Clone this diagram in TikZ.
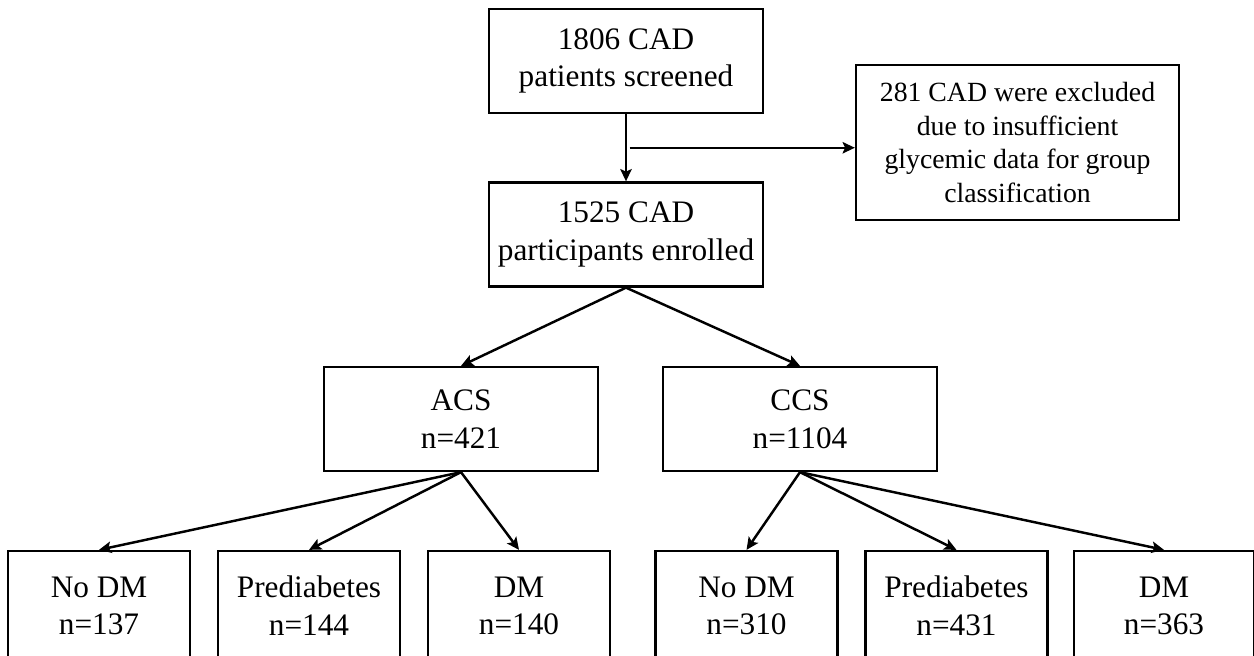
\documentclass[tikz,border=0pt]{standalone}
\usepackage{fontspec}
\setmainfont{Liberation Serif}
\usetikzlibrary{positioning,arrows.meta}

\begin{document}
\begin{tikzpicture}[node distance=3.74cm,on grid,>={Stealth[length=7pt,width=6.5pt,inset=1.5pt]},
    box/.style={draw,line width=1.3pt,align=center,inner sep=2pt,
        font=\fontsize{17.8}{21.5}\selectfont,
        minimum width=5.48cm,minimum height=2.08cm},
    group/.style={box,minimum width=3.64cm,minimum height=2.2cm},
    note/.style={box,font=\fontsize{15.8}{19}\selectfont,
        minimum width=6.46cm,minimum height=3.1cm},
    link/.style={->,line width=1.4pt}]
    \useasboundingbox (0,0) rectangle (25.08,-13.10);
    \node[box] (screen) at (12.52,-1.22) {1806 CAD\\patients screened};
    \node[box] (enrol) [below=3.47cm of screen] {1525 CAD\\participants enrolled};
    \node[note] (excl) [below right=1.63cm and 7.83cm of screen]
        {281 CAD were excluded\\due to insufficient\\glycemic data for group\\classification};
    \node[box] (acs) [below left=3.69cm and 3.30cm of enrol] {ACS\\n=421};
    \node[box] (ccs) [below right=3.69cm and 3.48cm of enrol] {CCS\\n=1104};
    % ACS groups
    \node[group] (acsno) [below left=3.74cm and 7.24cm of acs] {No DM\\n=137};
    \node[group] (acspre) [below left=3.74cm and 3.04cm of acs] {Prediabetes\\n=144};
    \node[group] (acsdm) [below right=3.74cm and 1.16cm of acs] {DM\\n=140};
    % CCS groups
    \node[group] (ccsno) [below left=3.74cm and 1.07cm of ccs] {No DM\\n=310};
    \node[group] (ccspre) [below right=3.74cm and 3.13cm of ccs] {Prediabetes\\n=431};
    \node[group,minimum width=3.6cm] (ccsdm) [below right=3.74cm and 7.28cm of ccs] {DM\\n=363};
    \draw[link] (screen) -- coordinate[midway] (split) (enrol);
    \draw[link] ([xshift=2pt]split) -- (split -| excl.west);
    \path[link]
        (enrol.south) edge (acs.north)
        (enrol.south) edge (ccs.north)
        (acs.south) edge (acsno.north)
        (acs.south) edge (acspre.north)
        (acs.south) edge (acsdm.north)
        (ccs.south) edge (ccsno.north)
        (ccs.south) edge (ccspre.north)
        (ccs.south) edge (ccsdm.north);
\end{tikzpicture}
\end{document}
